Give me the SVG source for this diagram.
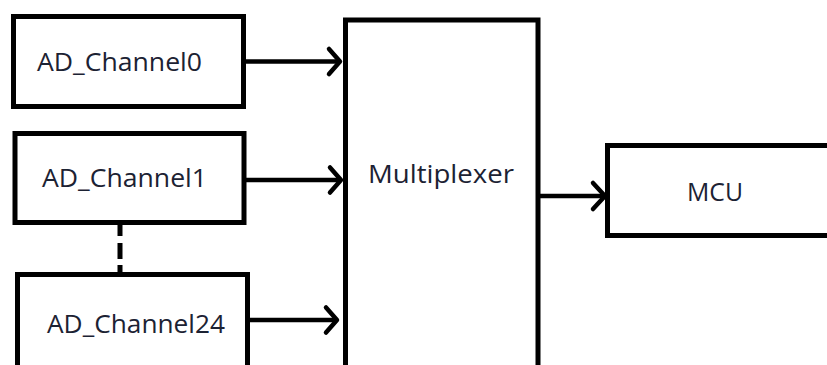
<svg xmlns="http://www.w3.org/2000/svg" width="827" height="365" viewBox="0 0 827 365">
  <defs>
    <style>
      .box { fill: #ffffff; stroke: #000000; stroke-width: 5; }
      .lbl { font-family: "Open Sans", "Noto Sans", sans-serif; font-size: 25px; fill: #1c2233; }
      .wire { fill: none; stroke: #000000; stroke-width: 4.5; }
      .head { fill: none; stroke: #000000; stroke-width: 4.5; stroke-linecap: round; stroke-linejoin: round; }
      .dash { fill: none; stroke: #000000; stroke-width: 5; }
    </style>
  </defs>
  <rect width="827" height="365" fill="#ffffff"/>

  <g id="mux">
    <rect class="box" x="345.5" y="20" width="192.5" height="400"/>
    <text class="lbl" x="368" y="183" textLength="146" lengthAdjust="spacingAndGlyphs">Multiplexer</text>
  </g>

  <g id="ad_channel0">
    <rect class="box" x="13.5" y="16.5" width="230" height="90"/>
    <text class="lbl" x="37" y="71" textLength="165" lengthAdjust="spacingAndGlyphs">AD_Channel0</text>
  </g>

  <g id="ad_channel1">
    <rect class="box" x="15" y="133.5" width="229" height="89"/>
    <text class="lbl" x="42" y="187" textLength="165" lengthAdjust="spacingAndGlyphs">AD_Channel1</text>
  </g>

  <g id="ad_channel24">
    <rect class="box" x="17.5" y="274.5" width="230" height="130"/>
    <text class="lbl" x="47" y="333" textLength="178" lengthAdjust="spacingAndGlyphs">AD_Channel24</text>
  </g>

  <g id="mcu">
    <rect class="box" x="607.5" y="145.5" width="300" height="90"/>
    <text class="lbl" x="687" y="201" textLength="56" lengthAdjust="spacingAndGlyphs">MCU</text>
  </g>

  <g id="connectors">
    <path class="wire" d="M243.5 61.5 H340"/>
    <path class="head" d="M329 49 L340 61.5 L329 74"/>
    <path class="wire" d="M244 180 H341"/>
    <path class="head" d="M330 167.5 L341 180 L330 192.5"/>
    <path class="wire" d="M247.5 320 H337"/>
    <path class="head" d="M326 307.5 L337 320 L326 332.5"/>
    <path class="wire" d="M538 196 H605"/>
    <path class="head" d="M593 183 L605 196 L593 209"/>
    <path class="dash" d="M120 222 V236 M120 243 V259 M120 265 V275"/>
  </g>
</svg>
